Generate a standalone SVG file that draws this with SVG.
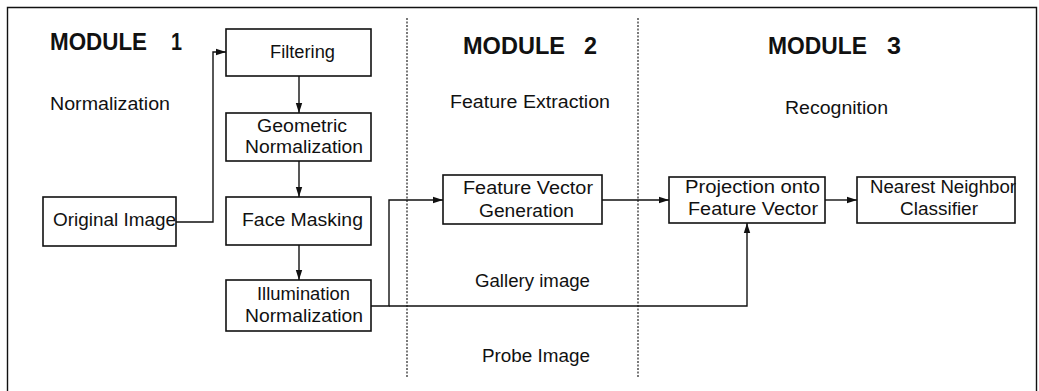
<svg xmlns="http://www.w3.org/2000/svg" width="1039" height="391" viewBox="0 0 1039 391">
<style>
text{font-family:"Liberation Sans",Arial,sans-serif;fill:#111}
.t{font-size:17.5px}
.h{font-size:23px;font-weight:bold}
.box{fill:#fff;stroke:#111;stroke-width:1.6}
.ln{fill:none;stroke:#111;stroke-width:1.4}
.dot{fill:none;stroke:#222;stroke-width:1.2;stroke-dasharray:2 1.5}
</style>
<defs>
<marker id="ah" viewBox="0 0 10 8" refX="10" refY="4" markerWidth="10" markerHeight="8" markerUnits="userSpaceOnUse" orient="auto">
<path d="M0,0.8 L10,4 L0,7.2 Z" fill="#111"/>
</marker>
</defs>
<rect width="1039" height="391" fill="#fff"/>
<path class="ln" d="M7.5,395 V7.5 H1036.5 V395" stroke-width="1.8"/>
<g id="dividers">
<line class="dot" x1="407" y1="18" x2="407" y2="378"/>
<line class="dot" x1="638" y1="18" x2="638" y2="378"/>
</g>
<g id="labels">
<text class="h" x="50" y="50"><tspan textLength="97" lengthAdjust="spacingAndGlyphs">MODULE</tspan><tspan x="171" textLength="11" lengthAdjust="spacingAndGlyphs">1</tspan></text>
<text class="h" x="463" y="54"><tspan textLength="102" lengthAdjust="spacingAndGlyphs">MODULE</tspan><tspan x="584" textLength="13" lengthAdjust="spacingAndGlyphs">2</tspan></text>
<text class="h" x="768" y="54"><tspan textLength="99" lengthAdjust="spacingAndGlyphs">MODULE</tspan><tspan x="887" textLength="14" lengthAdjust="spacingAndGlyphs">3</tspan></text>
<text class="t" x="50" y="110" textLength="120" lengthAdjust="spacingAndGlyphs">Normalization</text>
<text class="t" x="450" y="108" textLength="160" lengthAdjust="spacingAndGlyphs">Feature Extraction</text>
<text class="t" x="785" y="114" textLength="103" lengthAdjust="spacingAndGlyphs">Recognition</text>
<text class="t" x="475" y="287" textLength="115" lengthAdjust="spacingAndGlyphs">Gallery image</text>
<text class="t" x="482" y="362" textLength="108" lengthAdjust="spacingAndGlyphs">Probe Image</text>
</g>
<g id="connectors">
<path class="ln" d="M176,222 H213 V52 H226" marker-end="url(#ah)"/>
<path class="ln" d="M299,76 V113" marker-end="url(#ah)"/>
<path class="ln" d="M299,161 V197" marker-end="url(#ah)"/>
<path class="ln" d="M299,245 V280" marker-end="url(#ah)"/>
<path class="ln" d="M371,306 H389 V200 H443" marker-end="url(#ah)"/>
<path class="ln" d="M389,306 H747 V223" marker-end="url(#ah)"/>
<path class="ln" d="M602,200 H669" marker-end="url(#ah)"/>
<path class="ln" d="M825,200 H857" marker-end="url(#ah)"/>
</g>
<g id="original">
<rect class="box" x="43" y="197" width="133" height="49"/>
<text class="t" x="53" y="226" textLength="123" lengthAdjust="spacingAndGlyphs">Original Image</text>
</g>
<g id="filtering">
<rect class="box" x="226" y="29" width="145" height="47"/>
<text class="t" x="270" y="58" textLength="65" lengthAdjust="spacingAndGlyphs">Filtering</text>
</g>
<g id="geometric">
<rect class="box" x="226" y="113" width="145" height="48"/>
<text class="t" x="257" y="132" textLength="90" lengthAdjust="spacingAndGlyphs">Geometric</text>
<text class="t" x="245" y="153" textLength="118" lengthAdjust="spacingAndGlyphs">Normalization</text>
</g>
<g id="facemask">
<rect class="box" x="226" y="197" width="145" height="48"/>
<text class="t" x="242" y="226" textLength="121" lengthAdjust="spacingAndGlyphs">Face Masking</text>
</g>
<g id="illumination">
<rect class="box" x="226" y="280" width="145" height="51"/>
<text class="t" x="257" y="300" textLength="93" lengthAdjust="spacingAndGlyphs">Illumination</text>
<text class="t" x="245" y="322" textLength="118" lengthAdjust="spacingAndGlyphs">Normalization</text>
</g>
<g id="fvgen">
<rect class="box" x="443" y="175" width="159" height="49"/>
<text class="t" x="463" y="194" textLength="130" lengthAdjust="spacingAndGlyphs">Feature Vector</text>
<text class="t" x="479" y="217" textLength="95" lengthAdjust="spacingAndGlyphs">Generation</text>
</g>
<g id="projection">
<rect class="box" x="669" y="177" width="156" height="46"/>
<text class="t" x="685" y="193" textLength="135" lengthAdjust="spacingAndGlyphs">Projection onto</text>
<text class="t" x="688" y="215" textLength="130" lengthAdjust="spacingAndGlyphs">Feature Vector</text>
</g>
<g id="nearest">
<rect class="box" x="857" y="177" width="158" height="46"/>
<text class="t" x="870" y="193" textLength="146" lengthAdjust="spacingAndGlyphs">Nearest Neighbor</text>
<text class="t" x="900" y="215" textLength="78" lengthAdjust="spacingAndGlyphs">Classifier</text>
</g>
</svg>
